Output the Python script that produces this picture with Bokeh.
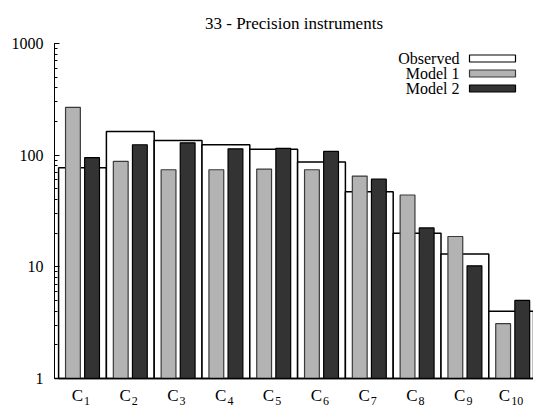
from bokeh.plotting import figure
from bokeh.models import ColumnDataSource, PrintfTickFormatter, LogTicker, Span
from bokeh.core.properties import value
from bokeh.embed import file_html
from bokeh.resources import INLINE

# ---- data ----
title_text = "33 - Precision instruments"
cat_letters = ["C"] * 10
cat_subs = ["1", "2", "3", "4", "5", "6", "7", "8", "9", "10"]
observed = [77, 163, 135, 124, 113, 87, 47, 20, 13, 4.0]
model1 = [268, 88, 74, 74, 75, 74, 65, 44, 18.7, 3.1]
model2 = [95, 124, 129, 114, 115, 108, 61, 22.3, 10.2, 5.0]
y_ticks = [1, 10, 100, 1000]
series_names = ["Observed", "Model 1", "Model 2"]

FONT = "Liberation Serif"
W, H = 533, 408
LEFT, TOP = 54, 43      # pixel column of the y axis, pixel row of the value 1000
AXIS_Y = 378            # pixel row of the value 1
PX_PER_UNIT = 47.8
FRAME_W = W - LEFT
DECADE_PX = (AXIS_Y - TOP) / 3.0
X0 = 1 - 28 / PX_PER_UNIT
X1 = X0 + FRAME_W / PX_PER_UNIT
Y_START = 10 ** (-(H - AXIS_Y) / DECADE_PX)
Y_END = 10 ** (3 + TOP / DECADE_PX)

xs = list(range(1, len(cat_subs) + 1))
src = ColumnDataSource(dict(
    x=xs,
    x1=[x - 0.2 for x in xs],
    x2=[x + 0.2 for x in xs],
    obs=observed, m1=model1, m2=model2,
))

p = figure(width=W, height=H, output_backend="svg", toolbar_location=None,
           y_axis_type="log", x_range=(X0, X1), y_range=(Y_START, Y_END),
           x_axis_location=None,
           min_border_left=LEFT, min_border_right=0, min_border_top=0,
           min_border_bottom=0)
p.outline_line_color = None
p.grid.visible = False
p.background_fill_color = "white"

p.vbar(x="x", top="obs", bottom=1, width=1.0, source=src,
       fill_color="white", line_color="black", line_width=1.5)
p.vbar(x="x1", top="m1", bottom=1, width=0.31, source=src,
       fill_color="#b3b3b3", line_color="#3a3a3a", line_width=1.2)
p.vbar(x="x2", top="m2", bottom=1, width=0.31, source=src,
       fill_color="#333333", line_color="black", line_width=1.2)

# x axis line at value 1
p.add_layout(Span(location=1, dimension="width", line_color="black", line_width=1.5))

def y_at(px_from_top):
    return 10 ** (3 - px_from_top / DECADE_PX)

def x_at(px):
    return X0 + (px - LEFT) / PX_PER_UNIT

# title, centred over the plotting area
p.text(x=[x_at((LEFT + W) / 2)], y=[y_at(-20)], text=[title_text],
       text_align="center", text_baseline="alphabetic", text_font=value(FONT),
       text_font_size="17px", text_color="black")

# legend (gnuplot style: text on the left, box on the right)
leg_rows = [15, 30, 45]
leg_fill = ["white", "#b3b3b3", "#333333"]
leg_line = ["black", "#3a3a3a", "black"]
for name, r, fc, lc in zip(series_names, leg_rows, leg_fill, leg_line):
    p.quad(left=[x_at(469)], right=[x_at(515)], top=[y_at(r - 3.5)],
           bottom=[y_at(r + 3.5)], fill_color=fc, line_color=lc, line_width=1.2)
    p.text(x=[x_at(459)], y=[y_at(r)], text=[name], text_align="right",
           text_baseline="middle", text_font=value(FONT),
           text_font_size="16px", text_color="black")

# category labels: C with subscript numbers
lab_src = ColumnDataSource(dict(
    xc=[x + (0.5 - 3 * (len(s) - 1)) / PX_PER_UNIT for x, s in zip(xs, cat_subs)],
    xs_=[x + (1.5 - 3 * (len(s) - 1)) / PX_PER_UNIT for x, s in zip(xs, cat_subs)],
    yc=[10 ** (-17 / DECADE_PX)] * len(xs),
    ys=[10 ** (-22 / DECADE_PX)] * len(xs),
    c=cat_letters, s=cat_subs,
))
p.text(x="xc", y="yc", text="c", source=lab_src, text_align="right",
       text_baseline="alphabetic", text_font=value(FONT),
       text_font_size="17px", text_color="black")
p.text(x="xs_", y="ys", text="s", source=lab_src, text_align="left",
       text_baseline="alphabetic", text_font=value(FONT),
       text_font_size="12px", text_color="black")

# y axis
ya = p.yaxis[0]
ya.bounds = (1, 1000)
ya.ticker = LogTicker(desired_num_ticks=4, num_minor_ticks=10)
ya.formatter = PrintfTickFormatter(format="%d")
ya.major_tick_in = 5
ya.major_tick_out = 0
ya.minor_tick_in = 3
ya.minor_tick_out = 0
ya.axis_line_color = "black"
ya.major_tick_line_color = "black"
ya.minor_tick_line_color = "black"
ya.major_label_text_font = FONT
ya.major_label_text_font_size = "16px"
ya.major_label_text_color = "black"
ya.major_label_standoff = 11

open("out.html", "w").write(file_html(p, INLINE))
